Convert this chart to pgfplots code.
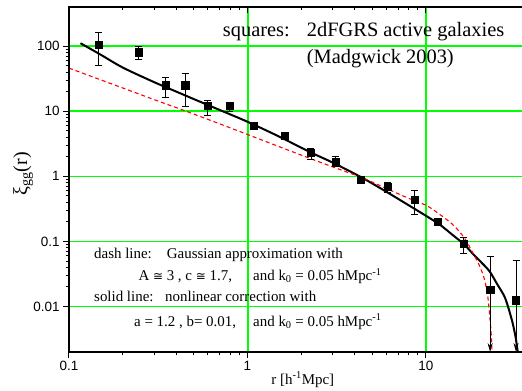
\documentclass[border=0pt]{standalone}
\usepackage{fontspec}
\setmainfont{Liberation Serif}
\newfontfamily\arialf{Liberation Sans}
\newfontfamily\dejavu{DejaVu Sans}
\usepackage{pgfplots}
\pgfplotsset{compat=1.18}
\usetikzlibrary{arrows.meta}
\definecolor{grgreen}{RGB}{0,255,0}
\definecolor{dred}{RGB}{255,0,0}
\begin{document}
\begin{tikzpicture}
\path[use as bounding box] (-69bp,-39bp) rectangle (453bp,352bp);
\begin{axis}[
 at={(0bp,0bp)}, anchor=south west,
 scale only axis, width=454bp, height=345bp,
 xmode=log, ymode=log,
 xmin=0.1, xmax=35, ymin=0.002, ymax=400,
 axis line style={line width=1.2bp},
 xtick pos=bottom, ytick pos=left,
 tick align=outside,
 major tick length=6bp, minor tick length=3.5bp,
 every tick/.style={black, line width=1bp},
 xtick={0.1,1,10}, xticklabels={0.1,1,10},
 ytick={0.01,0.1,1,10,100}, yticklabels={0.01,0.1,1,10,100},
 xmajorgrids=true, ymajorgrids=true,
 major grid style={grgreen, line width=1.6bp},
 tick label style={font=\fontsize{13.5}{16}\selectfont\arialf},
 xlabel={r [h\textsuperscript{-1}Mpc]},
 ylabel={ξ\textsubscript{gg}(r)},
 x label style={at={(axis description cs:0.515,-0.0928)}, anchor=base, font=\fontsize{15}{18}\selectfont},
 y label style={at={(axis description cs:-0.101,0.516)}, anchor=center, font=\fontsize{20}{24}\selectfont},
]
% green grid line at r = 1, drawn explicitly (slightly wider)
\addplot[grgreen, line width=2bp, forget plot] coordinates {(1.003,0.002) (1.003,400)};
% solid line: nonlinear correction
\addplot[black, line width=2bp, smooth] coordinates {
(0.116,111) (0.15,74.4) (0.2,47) (0.3,28) (0.4,20) (0.5,15.4) (0.7,10.45)
(1.0,6.9) (1.5,4.1) (2.27,2.32) (3.0,1.63) (4.4,0.95) (6.0,0.58) (8.0,0.36)
(10,0.248) (12,0.18) (14,0.128) (16.4,0.09) (18,0.068) (20,0.0506)
(22.7,0.0349) (25,0.0224) (27.5,0.0144) (29,0.0095) (30.6,0.0056) (31.8,0.0034) (32.8,0.0019)
};
% dash line: Gaussian approximation
\addplot[dred, line width=1.1bp, dash pattern=on 4bp off 3bp, smooth] coordinates {
(0.1,46) (0.2,22.8) (0.3,15.1) (0.454,10.0) (0.7,6.4) (1.0,4.4) (1.5,2.87) (2.18,1.94)
(3.0,1.40) (4.4,0.95) (6.0,0.65) (8.0,0.46) (10,0.36) (11.6,0.276) (14.1,0.183)
(16.4,0.114) (18.3,0.067) (20,0.042) (21.3,0.026) (22.2,0.0144) (22.7,0.008)
(23.2,0.0039) (23.5,0.0019)
};
% data: 2dFGRS active galaxies
\addplot[only marks, mark=square*, mark size=3.6bp, black,
 error bars/.cd, y dir=both, y explicit,
 error bar style={line width=0.8bp, black},
 error mark options={rotate=90, mark size=3.5bp, line width=0.8bp, black}]
coordinates {
(0.147,106) += (0,56) -= (0,56.2)
(0.245,81) += (0,20) -= (0,19.4)
(0.347,25.1) += (0,8.6) -= (0,8.7)
(0.448,25.1) += (0,13.3) -= (0,13.3)
(0.600,12.1) += (0,2.7) -= (0,3.4)
(0.793,12.1) += (0,1.8) -= (0,2.0)
(1.08,5.94) += (0,0.5) -= (0,0.5)
(1.62,4.27) += (0,0.4) -= (0,0.4)
(2.27,2.32) += (0,0.38) -= (0,0.49)
(3.11,1.70) += (0,0.31) -= (0,0.26)
(4.33,0.877) += (0,0.07) -= (0,0.07)
(6.11,0.685) += (0,0.115) -= (0,0.125)
(8.62,0.443) += (0,0.172) -= (0,0.183)
(11.6,0.201) += (0,0.015) -= (0,0.015)
(16.3,0.092) += (0,0.024) -= (0,0.027)
(22.9,0.0183) += (0,0.0397) -= (0,0)
(32.0,0.0125) += (0,0.0385) -= (0,0)
};
\addplot[black, line width=0.8bp, -{Stealth[length=9bp,width=5bp]}] coordinates {(22.9,0.0183) (22.9,0.002)};
\addplot[black, line width=0.8bp, -{Stealth[length=9bp,width=5bp]}] coordinates {(32.0,0.0125) (32.0,0.002)};
\end{axis}
\begin{axis}[
 at={(0bp,0bp)}, anchor=south west,
 scale only axis, width=454bp, height=345bp,
 xmode=log, ymode=log,
 xmin=0.1, xmax=35, ymin=0.002, ymax=400,
 axis line style={line width=1.2bp},
 xtick pos=top, ytick=\empty,
 tick align=inside,
 major tick length=6bp, minor tick length=3.5bp,
 every tick/.style={black, line width=1bp},
 xtick={0.1,1,10}, xticklabels={},
]
\addplot[draw=none, mark=none] coordinates {(1,1)};
\end{axis}
\node[anchor=base west, inner sep=0, font=\fontsize{20.5}{24}\selectfont] at (153.7bp,315.3bp) {squares:};
\node[anchor=base west, inner sep=0, font=\fontsize{20.5}{24}\selectfont] at (237.7bp,315.3bp) {2dFGRS active galaxies};
\node[anchor=base west, inner sep=0, font=\fontsize{20.5}{24}\selectfont] at (237.7bp,288.7bp) {(Madgwick 2003)};
\node[anchor=base west, inner sep=0, font=\fontsize{15}{18}\selectfont] at (25bp,93.7bp) {dash line:};
\node[anchor=base west, inner sep=0, font=\fontsize{15}{18}\selectfont] at (97.7bp,93.7bp) {Gaussian approximation with};
\node[anchor=base west, inner sep=0, font=\fontsize{15}{18}\selectfont] at (69.3bp,71.5bp) {A {\dejavu\fontsize{12}{14}\selectfont ≅} 3 , c {\dejavu\fontsize{12}{14}\selectfont ≅} 1.7,};
\node[anchor=base west, inner sep=0, font=\fontsize{15}{18}\selectfont] at (184bp,71.5bp) {and k\textsubscript{0} = 0.05 hMpc\textsuperscript{-1}};
\node[anchor=base west, inner sep=0, font=\fontsize{15}{18}\selectfont] at (25bp,50bp) {solid line:};
\node[anchor=base west, inner sep=0, font=\fontsize{15}{18}\selectfont] at (96bp,50bp) {nonlinear correction with};
\node[anchor=base west, inner sep=0, font=\fontsize{15}{18}\selectfont] at (65bp,26bp) {a = 1.2 , b= 0.01,};
\node[anchor=base west, inner sep=0, font=\fontsize{15}{18}\selectfont] at (184bp,26bp) {and k\textsubscript{0} = 0.05 hMpc\textsuperscript{-1}};
\end{tikzpicture}
\end{document}
